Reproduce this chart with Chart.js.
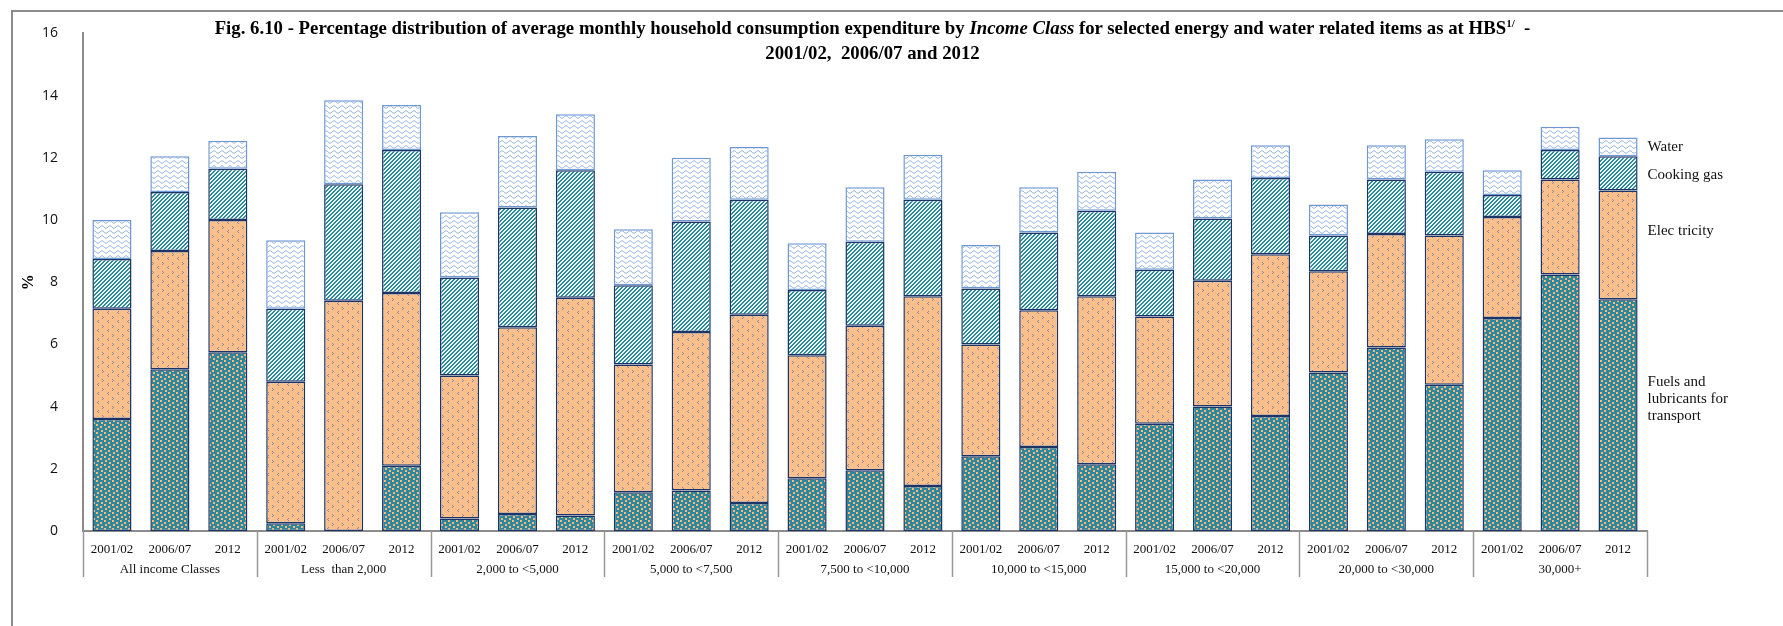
<!DOCTYPE html>
<html>
<head>
<meta charset="utf-8">
<script src="https://cdn.jsdelivr.net/npm/chart.js@4.4.0/dist/chart.umd.min.js"></script>
<style>
  html, body { margin: 0; padding: 0; background: #fff; }
  #wrap { position: relative; width: 1783px; height: 626px; overflow: hidden; background: #fff; }
  #frame { position: absolute; left: 11px; top: 10px; width: 1800px; height: 700px; border: 2px solid #8c8c8c; box-sizing: border-box; pointer-events: none; }
  #title { position: absolute; left: 0; top: 15px; width: 1745px; text-align: center; white-space: nowrap;
           font: bold 18.8px "Liberation Serif", "Times New Roman", serif; line-height: 25px; color: #000; }
  #title sup { font-size: 11px; line-height: 0; }
  canvas { position: absolute; left: 0; top: 0; }
</style>
</head>
<body>
<div id="wrap">
  <canvas id="energyChart" width="1783" height="626"></canvas>
  <div id="frame"></div>
  <div id="title">Fig. 6.10 - Percentage distribution of average monthly household consumption expenditure by <i>Income Class</i> for selected energy and water related items as at HBS<sup>1/</sup>&nbsp; -<br>2001/02,&nbsp; 2006/07 and 2012</div>
</div>
<script>
// categories
const years = ['2001/02', '2006/07', '2012'];
const incomeClasses = ['All income Classes', 'Less  than 2,000', '2,000 to <5,000', '5,000 to <7,500',
    '7,500 to <10,000', '10,000 to <15,000', '15,000 to <20,000', '20,000 to <30,000', '30,000+'];

// series values (% of monthly expenditure)
const fuel  = [3.6, 5.2, 5.75,  0.25, 0, 2.1,   0.4, 0.55, 0.5,  1.25, 1.3, 0.9,  1.7, 1.95, 1.45,
               2.4, 2.7, 2.15,  3.45, 4.0, 3.7,  5.1, 5.9, 4.7,  6.85, 8.25, 7.45];
const elec  = [3.55, 3.8, 4.25, 4.55, 7.4, 5.55, 4.6, 6.0, 7.0,  4.1, 5.1, 6.05,  3.95, 4.65, 6.1,
               3.6, 4.4, 5.4,   3.45, 4.05, 5.2, 3.25, 3.65, 4.8, 3.25, 3.05, 3.5];
const gas   = [1.6, 1.9, 1.65,  2.35, 3.75, 4.6, 3.15, 3.85, 4.1, 2.55, 3.55, 3.7, 2.1, 2.7, 3.1,
               1.8, 2.5, 2.75,  1.5, 2.0, 2.45,  1.15, 1.75, 2.05, 0.7, 0.95, 1.1];
const water = [1.25, 1.15, 0.9, 2.2, 2.7, 1.45, 2.1, 2.3, 1.8,   1.8, 2.05, 1.7,  1.5, 1.75, 1.45,
               1.4, 1.45, 1.25, 1.2, 1.25, 1.05, 1.0, 1.1, 1.05,  0.8, 0.75, 0.6];

const yTicks = [0, 2, 4, 6, 8, 10, 12, 14, 16];

// labels written beside the last bar, and where (in % units) they sit
const seriesNames = [['Fuels and', 'lubricants for', 'transport'], ['Elec tricity'], ['Cooking gas'], ['Water']];
const seriesLabelAt = [4.25, 9.65, 11.45, 12.35];

const labels = [];
incomeClasses.forEach(() => years.forEach(y => labels.push(y)));

// --- fill patterns ---
function makePattern(w, h, draw) {
    const c = document.createElement('canvas');
    c.width = w; c.height = h;
    draw(c.getContext('2d'));
    return document.createElement('canvas').getContext('2d').createPattern(c, 'repeat');
}

const fuelFill = makePattern(8, 8, g => {
    g.fillStyle = '#31879a'; g.fillRect(0, 0, 8, 8);
    g.fillStyle = '#f3b883';
    g.fillRect(0, 0, 2, 2); g.fillRect(4, 2, 2, 2); g.fillRect(1, 4, 2, 2); g.fillRect(5, 6, 2, 2);
});
const elecFill = makePattern(10, 9, g => {
    g.fillStyle = '#fbbf8c'; g.fillRect(0, 0, 10, 9);
    g.fillStyle = '#8a8aa3';
    g.fillRect(2, 1, 1, 1); g.fillRect(3, 2, 1, 1); g.fillRect(2, 3, 1, 1);
    g.fillRect(8, 5, 1, 1); g.fillRect(7, 6, 1, 1); g.fillRect(8, 7, 1, 1);
});
const gasFill = makePattern(4, 4, g => {
    g.fillStyle = '#eaf5f6'; g.fillRect(0, 0, 4, 4);
    g.fillStyle = '#2f8a97';
    for (let x = 0; x < 4; x++) for (let y = 0; y < 4; y++) {
        if ((x + y) % 4 < 2) g.fillRect(x, y, 1, 1);
    }
});
const waterFill = makePattern(8, 5, g => {
    g.fillStyle = '#ffffff'; g.fillRect(0, 0, 8, 5);
    g.strokeStyle = '#86abe0'; g.lineWidth = 1;
    g.beginPath();
    for (let x = 0; x <= 8; x += 0.5) {
        const y = 2 + Math.sin(x / 8 * Math.PI * 2) * 1.2;
        if (x === 0) g.moveTo(x, y); else g.lineTo(x, y);
    }
    g.stroke();
});

// group labels, separators and series names
const sidePlugin = {
    id: 'sidePlugin',
    afterDraw(chart) {
        const ctx = chart.ctx;
        const x = chart.scales.x, y = chart.scales.y;
        const bottom = chart.chartArea.bottom;
        const step = x.width / labels.length;
        ctx.save();
        ctx.strokeStyle = '#999';
        ctx.lineWidth = 1.5;
        for (let g = 0; g <= incomeClasses.length; g++) {
            const px = Math.round(x.left + g * years.length * step) + 0.5;
            ctx.beginPath();
            ctx.moveTo(px, bottom);
            ctx.lineTo(px, bottom + 46);
            ctx.stroke();
        }
        ctx.fillStyle = '#111';
        ctx.font = '13px "Liberation Serif"';
        ctx.textAlign = 'center';
        ctx.textBaseline = 'middle';
        incomeClasses.forEach((name, g) => {
            ctx.fillText(name, x.getPixelForValue(g * years.length + 1), bottom + 39);
        });

        ctx.font = '15px "Liberation Serif"';
        ctx.textAlign = 'left';
        const lastBar = chart.getDatasetMeta(0).data[labels.length - 1];
        const lx = lastBar.x + lastBar.width / 2 + 10;
        seriesNames.forEach((lines, i) => {
            const cy = y.getPixelForValue(seriesLabelAt[i]);
            lines.forEach((t, k) => {
                ctx.fillText(t, lx, cy + (k - (lines.length - 1) / 2) * 17);
            });
        });
        ctx.restore();
    }
};

const ds = (label, data, fill, border) => ({
    label: label,
    data: data,
    backgroundColor: fill,
    borderColor: border,
    borderWidth: 1.5,
    borderSkipped: false,
    barPercentage: 0.675,
    categoryPercentage: 1.0
});

new Chart(document.getElementById('energyChart'), {
    type: 'bar',
    data: {
        labels: labels,
        datasets: [
            ds('Fuels and lubricants for transport', fuel, fuelFill, '#1c3566'),
            ds('Electricity', elec, elecFill, '#1c3566'),
            ds('Cooking gas', gas, gasFill, '#1c3566'),
            ds('Water', water, waterFill, '#6f98d3')
        ]
    },
    options: {
        responsive: false,
        animation: false,
        layout: { padding: { top: 29, right: 136, left: 12, bottom: 0 } },
        plugins: {
            legend: { display: false },
            tooltip: { enabled: false }
        },
        scales: {
            x: {
                stacked: true,
                grid: { display: false, drawTicks: false },
                border: { display: true, color: '#8c8c8c', width: 2 },
                ticks: {
                    autoSkip: false, maxRotation: 0, padding: 11, color: '#111',
                    font: { family: '"Liberation Serif"', size: 13 }
                },
                afterFit: s => { s.height = 95; }
            },
            y: {
                stacked: true,
                min: 0, max: 16,
                afterBuildTicks: s => { s.ticks = yTicks.map(v => ({ value: v })); },
                grid: { display: false, drawTicks: false },
                border: { display: true, color: '#8c8c8c', width: 2 },
                ticks: {
                    padding: 25, color: '#111',
                    font: { family: '"Open Sans"', size: 14 }
                },
                title: {
                    display: true, text: '%', color: '#000', padding: { top: 7, bottom: 0 },
                    font: { family: '"Liberation Serif"', size: 16, weight: 'bold' }
                },
                afterFit: s => { s.width = 71; }
            }
        }
    },
    plugins: [sidePlugin]
});
</script>
</body>
</html>
